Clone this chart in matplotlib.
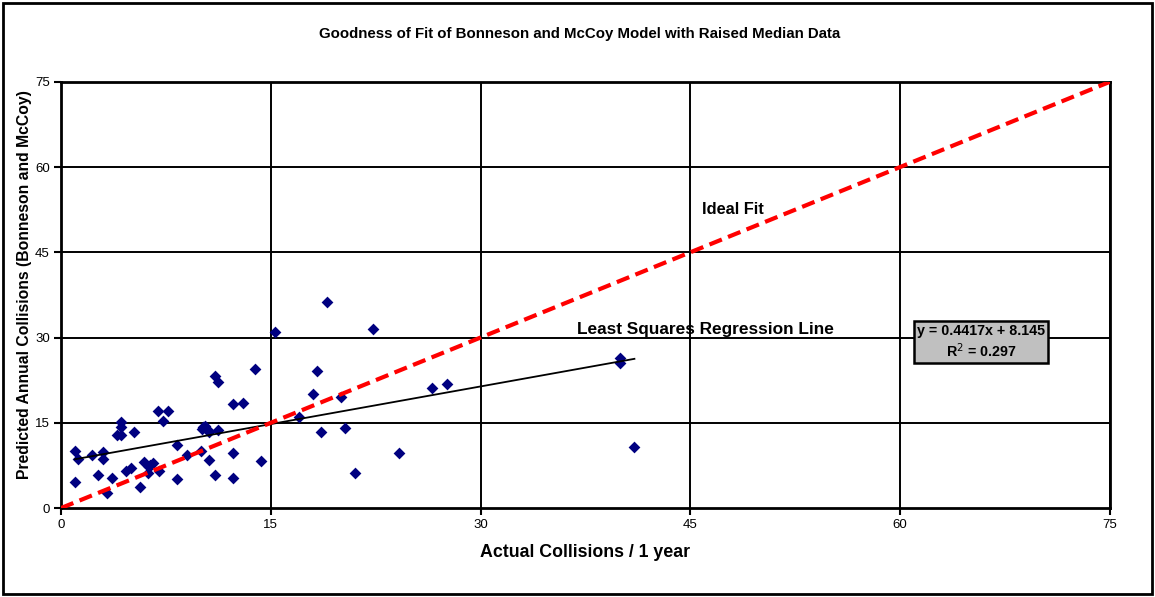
import matplotlib
matplotlib.use("Agg")
from matplotlib import pyplot as plt
from matplotlib.patches import Rectangle
import numpy as np

plt.rcParams['font.family'] = ['Liberation Sans', 'DejaVu Sans']

# actual vs predicted collisions
actual = [1.0, 1.24, 1.0, 2.24, 3.03, 3.03, 2.62, 3.27, 3.67, 4.27,
          4.27, 3.98, 4.29, 5.24, 4.65, 5.0, 5.65, 5.96, 6.25, 6.6,
          6.3, 7.0, 6.96, 7.63, 7.27, 8.32, 8.27, 8.99, 10.0, 10.06,
          10.3, 10.6, 11.25, 10.6, 11.0, 12.3, 12.3, 12.27, 12.99, 11.0,
          11.25, 13.9, 10.17, 10.6, 15.3, 19.0, 22.3, 18.3, 18.0, 20.0,
          17.0, 18.6, 20.3, 14.3, 24.2, 21.0, 26.5, 27.6, 40.0, 40.0,
          41.0, 6.4]
predicted = [10.1, 8.7, 4.5, 9.4, 9.9, 8.6, 5.8, 2.6, 5.2, 15.2,
             14.3, 12.9, 12.8, 13.3, 6.5, 7.0, 3.75, 8.15, 6.1, 8.0,
             7.3, 6.5, 17.1, 17.0, 15.4, 11.1, 5.05, 9.3, 10.1, 13.9,
             14.4, 13.6, 13.7, 8.45, 5.8, 5.2, 9.7, 18.25, 18.5, 23.2,
             22.2, 24.5, 14.3, 13.3, 30.9, 36.3, 31.5, 24.2, 20.1, 19.6,
             16.1, 13.3, 14.0, 8.3, 9.7, 6.2, 21.1, 21.8, 26.4, 25.6,
             10.8, 7.6]

ideal_x = [0, 15, 30, 45, 60, 75]
ideal_y = [0, 15, 30, 45, 60, 75]

slope, intercept, r2 = 0.4417, 8.145, 0.297
ticks = [0, 15, 30, 45, 60, 75]

fig = plt.figure(figsize=(11.55, 5.97), dpi=100)
ax = fig.add_axes([0.0528, 0.149, 0.9082, 0.714])

# grid
for t in ticks[1:]:
    ax.axvline(t, color='black', lw=1.4, zorder=1)
    ax.axhline(t, color='black', lw=1.4, zorder=1)

ax.scatter(actual, predicted, marker='D', s=36, color='#000080', zorder=3, linewidths=0)

xr = np.array([min(actual), max(actual)])
ax.plot(xr, slope * xr + intercept, color='black', lw=1.3, zorder=4)

ax.plot(ideal_x, ideal_y, color='#FF0000', lw=3.0, dashes=(3.2, 1.6), zorder=5)

ax.set_xlim(0, 75)
ax.set_ylim(0, 75)
ax.set_xticks(ticks)
ax.set_yticks(ticks)
ax.tick_params(direction='out', length=5, width=1.5, labelsize=9.5, pad=3)
for s in ax.spines.values():
    s.set_linewidth(2)

ax.set_xlabel('Actual Collisions / 1 year', fontsize=12.8, fontweight='bold', labelpad=9)
fig.text(25 / 1155, 1 - 285 / 597, 'Predicted Annual Collisions (Bonneson and McCoy)',
         fontsize=11.3, fontweight='bold', rotation=90, ha='center', va='center')
fig.suptitle('Goodness of Fit of Bonneson and McCoy Model with Raised Median Data',
             fontsize=10.8, fontweight='bold', x=0.502, y=0.955)

ax.text(45.8, 52.6, 'Ideal Fit', fontsize=11.8, fontweight='bold', va='center', ha='left')
ax.text(36.9, 31.5, 'Least Squares Regression Line', fontsize=12.4, fontweight='bold',
        va='center', ha='left')
ax.text(65.8, 29.2, f'y = {slope}x + {intercept}\nR$^{{2}}$ = {r2}', fontsize=10.3,
        fontweight='bold', ha='center', va='center', linespacing=1.25, zorder=6,
        bbox=dict(boxstyle='square,pad=0.22', facecolor='#C0C0C0', edgecolor='black', lw=1.8))

fig.patches.append(Rectangle((0.003, 0.005), 0.994, 0.99, transform=fig.transFigure,
                             fill=False, edgecolor='black', lw=2))

fig.savefig('out.png', dpi=100)
